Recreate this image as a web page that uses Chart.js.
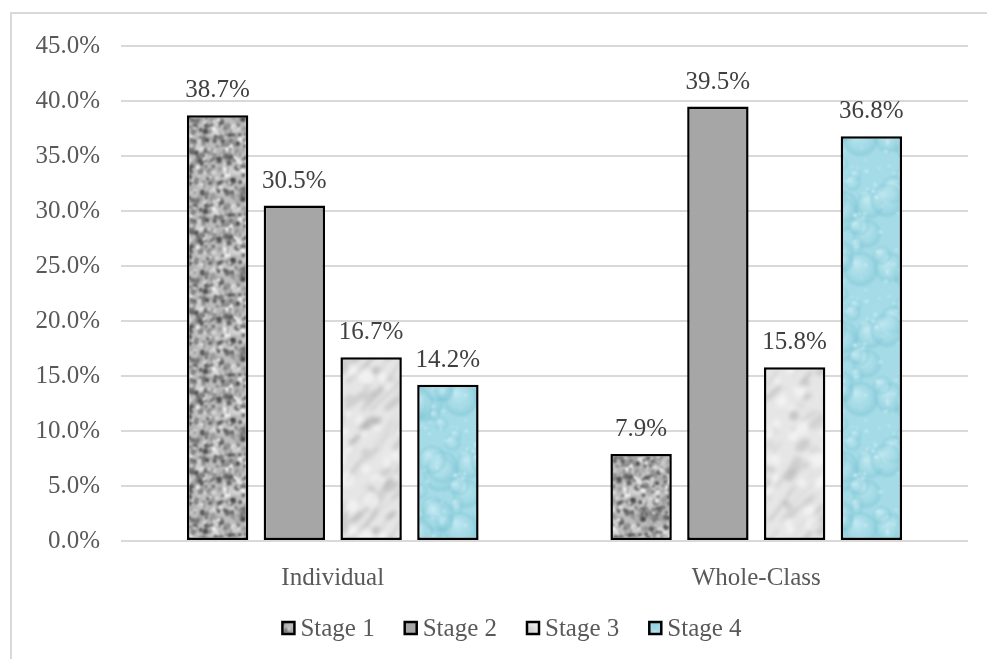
<!DOCTYPE html>
<html>
<head>
<meta charset="utf-8">
<script src="https://cdn.jsdelivr.net/npm/chart.js@4.4.1/dist/chart.umd.min.js"></script>
<style>
  html, body { margin: 0; padding: 0; background: #fff; }
  #wrap { position: relative; width: 987px; height: 659px; overflow: hidden; }
  #frame {
    position: absolute; left: 10px; top: 12px; width: 1000px; height: 700px;
    border: 2px solid #d9d9d9; box-sizing: border-box;
  }
  #c { position: absolute; left: 0; top: 0; }
</style>
</head>
<body>
<div id="wrap">
  <div id="frame"></div>
  <canvas id="c" width="987" height="659"></canvas>
</div>
<script>
// ===== DATA =====
const groups = ["Individual", "Whole-Class"];
const stageNames = ["Stage 1", "Stage 2", "Stage 3", "Stage 4"];
const stage1 = [38.7, 7.9];
const stage2 = [30.5, 39.5];
const stage3 = [16.7, 15.8];
const stage4 = [14.2, 36.8];
const yTicksMax = 45;
const yTicksStep = 5;

const FONT = "'Liberation Serif', 'Times New Roman', serif";

// ===== TEXTURE FILLS =====
// small seeded generator so the textures look the same every load
let seed = 7;
const rnd = () => {
  seed = (seed * 16807) % 2147483647;
  return (seed - 1) / 2147483646;
};

// draw a shape 9 times so anything crossing a tile edge wraps round
function wrapped(g, w, h, fn) {
  for (let dx = -1; dx <= 1; dx++)
    for (let dy = -1; dy <= 1; dy++) {
      g.save();
      g.translate(dx * w, dy * h);
      fn();
      g.restore();
    }
}

// paint a tile, then blur it seamlessly (blur a 3x3 copy, keep the middle)
function makeTile(w, h, draw, blur) {
  const raw = document.createElement("canvas");
  raw.width = w; raw.height = h;
  draw(raw.getContext("2d"), w, h);
  const tiled = document.createElement("canvas");
  tiled.width = w * 3; tiled.height = h * 3;
  const t = tiled.getContext("2d");
  for (let dx = 0; dx < 3; dx++)
    for (let dy = 0; dy < 3; dy++) t.drawImage(raw, dx * w, dy * h);
  const big = document.createElement("canvas");
  big.width = w * 3; big.height = h * 3;
  const b = big.getContext("2d");
  b.filter = `blur(${blur}px)`;
  b.drawImage(tiled, 0, 0);
  const out = document.createElement("canvas");
  out.width = w; out.height = h;
  out.getContext("2d").drawImage(big, w, h, w, h, 0, 0, w, h);
  return out;
}

const ctx = document.getElementById("c").getContext("2d");

const granite = makeTile(80, 80, (g, w, h) => {
  g.fillStyle = "#bdbdbd";
  g.fillRect(0, 0, w, h);
  for (let i = 0; i < 700; i++) {
    const v = Math.round(70 + rnd() * 175);
    const x = rnd() * w, y = rnd() * h, r = 0.8 + rnd() * 2.4;
    wrapped(g, w, h, () => {
      g.fillStyle = `rgb(${v},${v},${v})`;
      g.beginPath();
      g.arc(x, y, r, 0, Math.PI * 2);
      g.fill();
    });
  }
}, 0.9);

const marble = makeTile(120, 160, (g, w, h) => {
  g.fillStyle = "#e6e6e6";
  g.fillRect(0, 0, w, h);
  for (let i = 0; i < 60; i++) {
    const v = Math.round(150 + rnd() * 80);
    const x = rnd() * w, y = rnd() * h, rx = 3 + rnd() * 12, ry = 1.5 + rnd() * 4;
    wrapped(g, w, h, () => {
      g.fillStyle = `rgba(${v},${v},${v},0.5)`;
      g.beginPath();
      g.ellipse(x, y, rx, ry, -0.7, 0, Math.PI * 2);
      g.fill();
    });
  }
  for (let i = 0; i < 40; i++) {
    const v = Math.round(170 + rnd() * 60);
    const lw = 1 + rnd() * 3;
    const x = rnd() * w, y = rnd() * h;
    const cx = x + 8 + rnd() * 12, cy = y - 8 - rnd() * 15;
    const ex = x + 18 + rnd() * 15, ey = y - 22 - rnd() * 20;
    wrapped(g, w, h, () => {
      g.strokeStyle = `rgba(${v},${v},${v},0.6)`;
      g.lineWidth = lw;
      g.beginPath();
      g.moveTo(x, y);
      g.quadraticCurveTo(cx, cy, ex, ey);
      g.stroke();
    });
  }
  for (let i = 0; i < 40; i++) {
    const x = rnd() * w, y = rnd() * h, r = 2 + rnd() * 6;
    wrapped(g, w, h, () => {
      g.fillStyle = "rgba(250,250,250,0.6)";
      g.beginPath();
      g.arc(x, y, r, 0, Math.PI * 2);
      g.fill();
    });
  }
}, 2.2);

const water = makeTile(100, 130, (g, w, h) => {
  g.fillStyle = "#a4dbe6";
  g.fillRect(0, 0, w, h);
  for (let i = 0; i < 26; i++) {
    const x = rnd() * w, y = rnd() * h, r = 5 + rnd() * 14;
    wrapped(g, w, h, () => {
      const grd = g.createRadialGradient(x - r * 0.3, y - r * 0.4, 1, x, y, r);
      grd.addColorStop(0, "rgba(215,244,250,0.6)");
      grd.addColorStop(0.6, "rgba(165,218,230,0.3)");
      grd.addColorStop(0.9, "rgba(115,190,208,0.4)");
      grd.addColorStop(1, "rgba(115,190,208,0)");
      g.fillStyle = grd;
      g.beginPath();
      g.ellipse(x, y, r, r * 1.2, 0.3, 0, Math.PI * 2);
      g.fill();
    });
  }
  for (let i = 0; i < 70; i++) {
    g.fillStyle = "rgba(228,249,253,0.6)";
    g.fillRect(rnd() * (w - 4), rnd() * (h - 2), 1 + rnd() * 3, 1 + rnd() * 2);
  }
}, 1.2);

const fills = [
  ctx.createPattern(granite, "repeat"),
  "#a6a6a6",
  ctx.createPattern(marble, "repeat"),
  ctx.createPattern(water, "repeat"),
];

// ===== VALUE LABELS ABOVE BARS =====
const valueLabels = {
  id: "valueLabels",
  afterDatasetsDraw(chart) {
    const c = chart.ctx;
    c.save();
    c.font = "25px " + FONT;
    c.fillStyle = "#404040";
    c.textAlign = "center";
    c.textBaseline = "alphabetic";
    chart.data.datasets.forEach((ds, i) => {
      chart.getDatasetMeta(i).data.forEach((bar, j) => {
        c.fillText(ds.data[j].toFixed(1) + "%", bar.x, bar.y - 18);
      });
    });
    c.restore();
  },
};

// ===== LEGEND (drawn by hand so box/text spacing stays tight) =====
const stageLegend = {
  id: "stageLegend",
  afterDraw(chart) {
    const c = chart.ctx;
    const box = 12, gap = 6, between = 30, y = 628;
    c.save();
    c.font = "25px " + FONT;
    c.textBaseline = "middle";
    const items = chart.data.datasets.map((ds) => ({
      label: ds.label,
      fill: ds.backgroundColor,
      w: box + gap + c.measureText(ds.label).width,
    }));
    const total = items.reduce((s, it) => s + it.w, 0) + between * (items.length - 1);
    let x = 512 - total / 2;
    items.forEach((it) => {
      c.fillStyle = it.fill;
      c.fillRect(x, y - box / 2, box, box);
      c.strokeStyle = "#000";
      c.lineWidth = 2.5;
      c.strokeRect(x, y - box / 2, box, box);
      c.fillStyle = "#595959";
      c.fillText(it.label, x + box + gap, y + 1);
      x += it.w + between;
    });
    c.restore();
  },
};

const series = [stage1, stage2, stage3, stage4];

new Chart(ctx, {
  type: "bar",
  data: {
    labels: groups,
    datasets: series.map((vals, i) => ({
      label: stageNames[i],
      data: vals,
      backgroundColor: fills[i],
      borderColor: "#000",
      borderWidth: 2.5,
      borderSkipped: false,
      categoryPercentage: 0.725,
      barPercentage: 0.8,
    })),
  },
  options: {
    responsive: false,
    animation: false,
    layout: { padding: { left: 20, right: 19, top: 46, bottom: 58 } },
    plugins: {
      tooltip: { enabled: false },
      legend: { display: false },
    },
    scales: {
      x: {
        grid: { display: false },
        border: { display: false },
        ticks: {
          font: { family: FONT, size: 25 },
          color: "#595959",
          padding: 14,
        },
        afterFit(s) { s.height = 60; },
      },
      y: {
        min: 0,
        max: yTicksMax,
        grid: { color: "#d9d9d9", lineWidth: 2, drawTicks: false },
        border: { display: false },
        ticks: {
          stepSize: yTicksStep,
          font: { family: FONT, size: 25 },
          color: "#595959",
          padding: 21,
          callback: (v) => v.toFixed(1) + "%",
        },
        afterFit(s) { s.width = 101; },
      },
    },
  },
  plugins: [valueLabels, stageLegend],
});
</script>
</body>
</html>
